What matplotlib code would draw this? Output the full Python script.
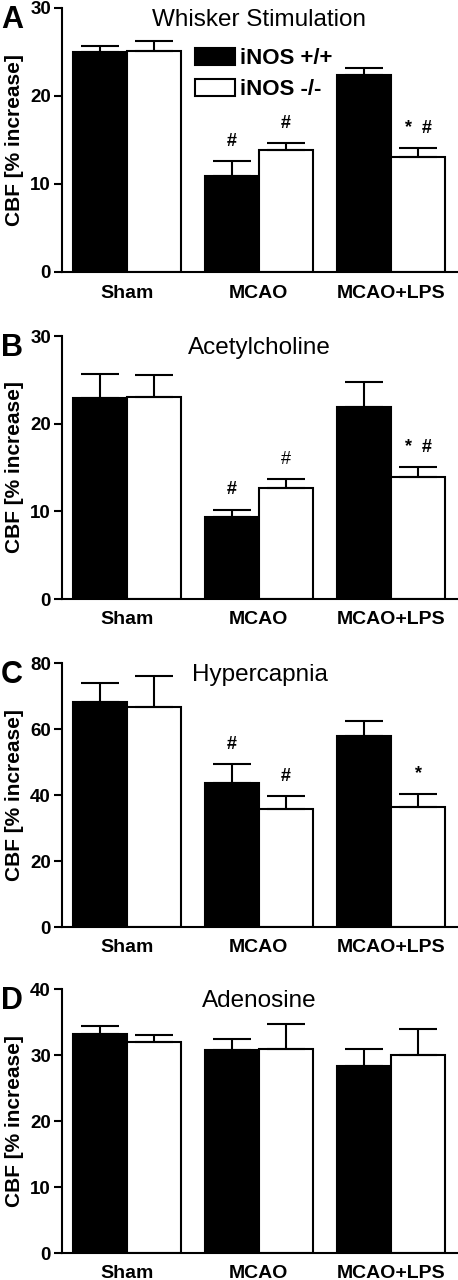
import numpy as np
import matplotlib.pyplot as plt
from matplotlib.patches import Patch

plt.rcParams['font.family'] = ['Liberation Sans', 'DejaVu Sans']

groups = ['Sham', 'MCAO', 'MCAO+LPS']

# A: whisker stimulation
whisker_wt = [25.0, 10.9, 22.4]
whisker_wt_err = [0.7, 1.7, 0.8]
whisker_ko = [25.1, 13.9, 13.1]
whisker_ko_err = [1.15, 0.8, 1.0]

# B: acetylcholine
ach_wt = [22.95, 9.4, 21.9]
ach_wt_err = [2.75, 0.8, 2.8]
ach_ko = [23.0, 12.7, 13.95]
ach_ko_err = [2.6, 1.0, 1.15]

# C: hypercapnia
hyper_wt = [68.2, 43.6, 58.0]
hyper_wt_err = [5.6, 5.8, 4.5]
hyper_ko = [66.8, 35.9, 36.3]
hyper_ko_err = [9.2, 3.8, 4.1]

# D: adenosine
adeno_wt = [33.2, 30.8, 28.3]
adeno_wt_err = [1.2, 1.7, 2.6]
adeno_ko = [31.9, 30.9, 30.0]
adeno_ko_err = [1.1, 3.8, 3.9]

panel_letters = ['A', 'B', 'C', 'D']
titles = ['Whisker Stimulation', 'Acetylcholine', 'Hypercapnia', 'Adenosine']
ymax = [30, 30, 80, 40]
ystep = [10, 10, 20, 10]

# significance marks: (group index, 0=wt / 1=ko, text, bold)
marks = [
    [(1, 0, '#', True), (1, 1, '#', True), (2, 1, '*  #', True)],
    [(1, 0, '#', True), (1, 1, '#', False), (2, 1, '*  #', True)],
    [(1, 0, '#', True), (1, 1, '#', True), (2, 1, '*', True)],
    [],
]

data = [
    (whisker_wt, whisker_wt_err, whisker_ko, whisker_ko_err),
    (ach_wt, ach_wt_err, ach_ko, ach_ko_err),
    (hyper_wt, hyper_wt_err, hyper_ko, hyper_ko_err),
    (adeno_wt, adeno_wt_err, adeno_ko, adeno_ko_err),
]

W, H = 458, 1280
fig = plt.figure(figsize=(W / 100, H / 100), dpi=100)

# axes pixel extents (top, bottom)
ax_px = [(8, 272), (336, 599), (663, 927), (989, 1253)]
left_px, right_px = 62, 457

x = np.arange(len(groups))
w = 0.41
lw = 1.5

for i in range(4):
    top, bot = ax_px[i]
    ax = fig.add_axes([left_px / W, 1 - bot / H, (right_px - left_px) / W, (bot - top) / H])
    wt, wt_err, ko, ko_err = data[i]
    errkw = dict(ecolor='black', elinewidth=lw, capsize=14, capthick=lw)
    ax.bar(x - w / 2, wt, w, color='black', edgecolor='black', linewidth=lw,
           yerr=[np.zeros(3), wt_err], error_kw=errkw, zorder=2)
    ax.bar(x + w / 2, ko, w, color='white', edgecolor='black', linewidth=lw,
           yerr=[np.zeros(3), ko_err], error_kw=errkw, zorder=2)

    for g, s, txt, bold in marks[i]:
        if s == 0:
            xx, yy = x[g] - w / 2, wt[g] + wt_err[g]
        else:
            xx, yy = x[g] + w / 2, ko[g] + ko_err[g]
        ax.annotate(txt, (xx, yy), xytext=(0, 8), textcoords='offset points',
                    ha='center', va='bottom', fontsize=13,
                    fontweight='bold' if bold else 'normal')

    ax.set_xlim(-0.49, 2.5)
    ax.set_ylim(0, ymax[i])
    ax.set_yticks(np.arange(0, ymax[i] + 1, ystep[i]))
    ax.set_xticks(x)
    ax.set_xticklabels(groups, fontsize=14, fontweight='bold')
    for t in ax.get_yticklabels():
        t.set_fontweight('bold')
        t.set_fontsize(13.5)
    ax.tick_params(axis='x', length=0, pad=9)
    ax.tick_params(axis='y', length=6, width=lw, pad=2)
    ax.spines['top'].set_visible(False)
    ax.spines['right'].set_visible(False)
    ax.spines['left'].set_linewidth(lw)
    ax.spines['bottom'].set_linewidth(lw)

    ax.set_ylabel('CBF [% increase]', fontsize=15, fontweight='bold')
    ax.yaxis.set_label_coords(-(left_px - 24) / (right_px - left_px), 0.5)

    ax.text(0.5, 0.955, titles[i], transform=ax.transAxes, ha='center', va='center',
            fontsize=17.5)
    fig.text(1 / W, 1 - (top + 12) / H, panel_letters[i], ha='left', va='center',
             fontsize=22, fontweight='bold')

    if i == 0:
        handles = [Patch(facecolor='black', edgecolor='black', linewidth=lw),
                   Patch(facecolor='white', edgecolor='black', linewidth=lw)]
        ax.legend(handles, ['iNOS +/+', 'iNOS -/-'], loc='upper left',
                  bbox_to_anchor=(0.337, 0.848), frameon=False, borderpad=0,
                  borderaxespad=0, handlelength=1.8, handleheight=0.77,
                  handletextpad=0.23, labelspacing=0.45,
                  prop={'size': 16, 'weight': 'bold'})

fig.savefig('out.png', dpi=100)
